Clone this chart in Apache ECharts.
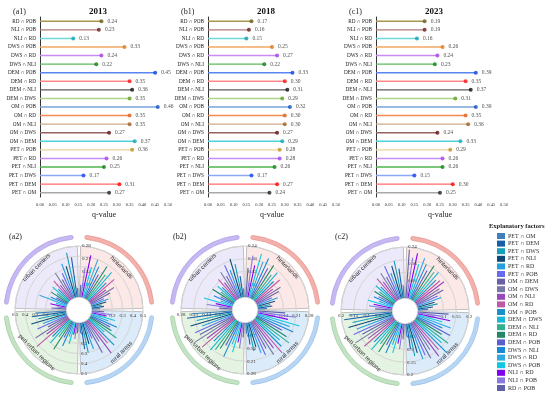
<!DOCTYPE html>
<html>
<head>
<meta charset="utf-8">
<script src="https://cdn.jsdelivr.net/npm/echarts@6/dist/echarts.min.js"></script>
<style>
  html, body { margin: 0; padding: 0; background: #fff; }
  #main { width: 550px; height: 406px; }
</style>
</head>
<body>
<div id="main"></div>
<script>
// interaction pairs, top to bottom in the lollipop panels
const pairs = ['RD ∩ POB', 'NLI ∩ POB', 'NLI ∩ RD', 'DWS ∩ POB', 'DWS ∩ RD', 'DWS ∩ NLI',
  'DEM ∩ POB', 'DEM ∩ RD', 'DEM ∩ NLI', 'DEM ∩ DWS', 'OM ∩ POB', 'OM ∩ RD', 'OM ∩ NLI',
  'OM ∩ DWS', 'OM ∩ DEM', 'PET ∩ POB', 'PET ∩ RD', 'PET ∩ NLI', 'PET ∩ DWS', 'PET ∩ DEM', 'PET ∩ OM']
const q2013 = [0.24, 0.23, 0.13, 0.33, 0.24, 0.22, 0.45, 0.35, 0.36, 0.35, 0.46, 0.35, 0.35, 0.27, 0.37, 0.36, 0.26, 0.25, 0.17, 0.31, 0.27]
const q2018 = [0.17, 0.16, 0.15, 0.25, 0.27, 0.22, 0.33, 0.30, 0.31, 0.29, 0.32, 0.30, 0.30, 0.27, 0.29, 0.28, 0.28, 0.26, 0.17, 0.27, 0.24]
const q2023 = [0.19, 0.19, 0.16, 0.26, 0.24, 0.23, 0.39, 0.35, 0.37, 0.31, 0.39, 0.35, 0.36, 0.24, 0.33, 0.29, 0.26, 0.26, 0.15, 0.30, 0.25]
const stemColors = ['#a89650', '#b07878', '#6fd6dc', '#f2a860', '#c88cf2', '#5cb85c', '#5a86f0', '#ff8a8a',
  '#5a5a5a', '#b0d48c', '#78a2da', '#f28a50', '#cfa888', '#946464', '#4fd2da', '#ead498', '#c88cf8',
  '#4cb44c', '#8aa8f8', '#ff6a6a', '#a8a8a8']
const dotColors = ['#6b5a10', '#6b1a1a', '#10a0b0', '#e07810', '#a040e0', '#108010', '#1040e0', '#ff1010',
  '#101010', '#60a020', '#1050c0', '#e06010', '#a06020', '#601010', '#10a8b8', '#c09020', '#a040f0',
  '#108010', '#1040f0', '#ff0000', '#202020']

// explanatory factors (legend order) for the polar panels
const factors = ['PET ∩ OM', 'PET ∩ DEM', 'PET ∩ DWS', 'PET ∩ NLI', 'PET ∩ RD', 'PET ∩ POB',
  'OM ∩ DEM', 'OM ∩ DWS', 'OM ∩ NLI', 'OM ∩ RD', 'OM ∩ POB', 'DEM ∩ DWS', 'DEM ∩ NLI', 'DEM ∩ RD',
  'DEM ∩ POB', 'DWS ∩ NLI', 'DWS ∩ RD', 'DWS ∩ POB', 'NLI ∩ RD', 'NLI ∩ POB', 'RD ∩ POB']
const factorColors = ['#3f7fc0', '#1660a8', '#18a0b8', '#0e4a78', '#22a0e0', '#6868f0',
  '#6a60a8', '#7878a8', '#9848b8', '#c058a8', '#1890c8', '#18b8d8', '#30b090', '#208868',
  '#5860d0', '#1888d8', '#30a8e0', '#10c8e0', '#8000f0', '#8878e0', '#6060a8']

// q-values per region (hinterlands, urban centers, peri-urban regions, rural areas)
const hint2013 = [0.08, 0.12, 0.10, 0.15, 0.18, 0.14, 0.22, 0.28, 0.20, 0.33, 0.25, 0.36, 0.30, 0.38, 0.27, 0.34, 0.40, 0.31, 0.42, 0.29, 0.12]
const urban2013 = [0.05, 0.22, 0.25, 0.18, 0.20, 0.15, 0.12, 0.17, 0.10, 0.14, 0.09, 0.12, 0.08, 0.11, 0.07, 0.10, 0.16, 0.06, 0.09, 0.05, 0.08]
const peri2013 = [0.30, 0.34, 0.28, 0.36, 0.25, 0.32, 0.22, 0.38, 0.27, 0.42, 0.24, 0.30, 0.20, 0.33, 0.18, 0.26, 0.15, 0.22, 0.12, 0.16, 0.10]
const rural2013 = [0.10, 0.26, 0.30, 0.22, 0.28, 0.18, 0.35, 0.24, 0.40, 0.30, 0.36, 0.20, 0.33, 0.25, 0.22, 0.28, 0.18, 0.24, 0.15, 0.20, 0.12]
const hint2018 = [0.05, 0.08, 0.07, 0.10, 0.12, 0.09, 0.14, 0.16, 0.12, 0.18, 0.15, 0.20, 0.17, 0.22, 0.19, 0.24, 0.21, 0.25, 0.18, 0.23, 0.16]
const urban2018 = [0.04, 0.10, 0.16, 0.19, 0.14, 0.17, 0.12, 0.15, 0.10, 0.13, 0.09, 0.11, 0.08, 0.12, 0.07, 0.10, 0.06, 0.14, 0.08, 0.12, 0.06]
const peri2018 = [0.22, 0.25, 0.20, 0.24, 0.18, 0.23, 0.21, 0.26, 0.19, 0.24, 0.17, 0.22, 0.20, 0.18, 0.15, 0.21, 0.13, 0.17, 0.11, 0.14, 0.08]
const rural2018 = [0.06, 0.12, 0.16, 0.14, 0.18, 0.20, 0.17, 0.22, 0.19, 0.24, 0.21, 0.18, 0.23, 0.20, 0.16, 0.22, 0.19, 0.24, 0.17, 0.21, 0.15]
const hint2023 = [0.04, 0.06, 0.08, 0.07, 0.10, 0.09, 0.12, 0.11, 0.14, 0.13, 0.12, 0.15, 0.14, 0.16, 0.13, 0.15, 0.17, 0.14, 0.18, 0.16, 0.19]
const urban2023 = [0.06, 0.14, 0.18, 0.16, 0.13, 0.17, 0.12, 0.15, 0.11, 0.14, 0.10, 0.12, 0.09, 0.11, 0.08, 0.10, 0.07, 0.12, 0.09, 0.11, 0.08]
const peri2023 = [0.17, 0.19, 0.16, 0.18, 0.15, 0.17, 0.14, 0.18, 0.13, 0.16, 0.12, 0.15, 0.11, 0.14, 0.10, 0.13, 0.09, 0.12, 0.08, 0.10, 0.06]
const rural2023 = [0.05, 0.10, 0.13, 0.12, 0.15, 0.14, 0.16, 0.13, 0.17, 0.15, 0.18, 0.14, 0.16, 0.12, 0.15, 0.11, 0.14, 0.10, 0.13, 0.09, 0.12]

// radial axis ranges per region [max, interval]
const scale2013 = [[0.5, 0.1], [0.28, 0.07], [0.5, 0.1], [0.5, 0.1]]
const scale2018 = [[0.28, 0.07], [0.24, 0.06], [0.28, 0.07], [0.28, 0.07]]
const scale2023 = [[0.2, 0.05], [0.24, 0.08], [0.2, 0.05], [0.2, 0.05]]

const regionNames = ['hinterlands', 'rural areas', 'peri-urban regions', 'urban centers']
const regionBg = ['#fce8e6', '#dcebfa', '#e5f3e2', '#eceafa']
const ringFill = ['#f4b0aa', '#b8d6f4', '#c4e2c4', '#c6b8f2']
const ringLine = ['#e08a84', '#8cb8e6', '#96c896', '#a694e2']

const serif = 'Liberation Serif, DejaVu Serif, serif'
const sans = 'Liberation Sans, Arial, sans-serif'

const chart = echarts.init(document.getElementById('main'))

const topPanels = [
  { tag: '(a1)', year: '2013', q: q2013, left: 40 },
  { tag: '(b1)', year: '2018', q: q2018, left: 208 },
  { tag: '(c1)', year: '2023', q: q2023, left: 376 }
]
const bottomPanels = [
  { tag: '(a2)', tagLeft: 4, center: [79, 310], vals: [hint2013, urban2013, peri2013, rural2013], scale: scale2013 },
  { tag: '(b2)', tagLeft: 168, center: [245, 310], vals: [hint2018, urban2018, peri2018, rural2018], scale: scale2018 },
  { tag: '(c2)', tagLeft: 330, center: [405, 311], vals: [hint2023, urban2023, peri2023, rural2023], scale: scale2023 }
]

const title = [], grid = [], xAxis = [], yAxis = [], series = []
const polar = [], angleAxis = [], radiusAxis = []

topPanels.forEach((p, i) => {
  title.push({ text: p.tag, left: p.left - 32, top: 3, textStyle: { fontFamily: serif, fontSize: 8, fontWeight: 'normal', color: '#222' } })
  title.push({ text: p.year, left: p.left + 44, top: 2, textStyle: { fontFamily: serif, fontSize: 9, fontWeight: 'bold', color: '#111' } })
  grid.push({ left: p.left, top: 17, width: 128, height: 180 })
  xAxis.push({
    gridIndex: i, type: 'value', min: 0, max: 0.5, interval: 0.05, offset: 2,
    name: 'q-value', nameLocation: 'middle', nameGap: 12,
    nameTextStyle: { fontFamily: serif, fontSize: 8, color: '#222' },
    axisLine: { show: false }, axisTick: { show: false }, splitLine: { show: false },
    axisLabel: { fontFamily: serif, fontSize: 4.5, color: '#333', margin: 3, formatter: v => v.toFixed(2) }
  })
  yAxis.push({
    gridIndex: i, type: 'category', data: pairs, inverse: true,
    axisLine: { show: true, lineStyle: { color: '#333', width: 1 } },
    axisTick: { show: false },
    axisLabel: { fontFamily: serif, fontSize: 5.2, color: '#222', margin: 4 }
  })
  series.push({
    type: 'bar', xAxisIndex: i, yAxisIndex: i, barWidth: 1.4, silent: true,
    data: p.q.map((v, k) => ({ value: v, itemStyle: { color: stemColors[k] } }))
  })
  series.push({
    type: 'scatter', xAxisIndex: i, yAxisIndex: i, symbolSize: 4, silent: true,
    data: p.q.map((v, k) => ({ value: [v, pairs[k]], itemStyle: { color: dotColors[k] } })),
    label: { show: true, position: 'right', distance: 4, fontFamily: serif, fontSize: 5.5, color: '#222',
      formatter: d => d.value[0].toFixed(2) }
  })
})

// angle axis runs 0..360 clockwise from the axis edge, so a region's quadrant is 270..360;
// factor k sits in slot k+1 of 22 equal slots, counted back from the axis edge
const startAngles = [0, 90, 180, 270]
const slotAngle = k => 360 - (k + 1) * 90 / 22
// radial tick labels: below the right axis, right of the top axis (others keep their default side)
const labelSide = [
  { margin: -3, verticalAlign: 'top' },
  { margin: -3, align: 'left' },
  { margin: 2 },
  { margin: 2 }
]

bottomPanels.forEach((p, pi) => {
  title.push({ text: p.tag, left: p.tagLeft, top: 228, textStyle: { fontFamily: serif, fontSize: 8, fontWeight: 'normal', color: '#222' } })
  // sector backgrounds, outer rings, region names
  series.push({
    type: 'pie', center: p.center, radius: [13, 64], startAngle: 90, padAngle: 3, silent: true, z: 0,
    label: { show: false }, labelLine: { show: false },
    data: regionNames.map((n, k) => ({ name: n, value: 1, itemStyle: { color: regionBg[k], borderColor: '#9a9a9a', borderWidth: 0.6 } }))
  })
  series.push({
    type: 'pie', center: p.center, radius: [71, 75], startAngle: 90, padAngle: 9, silent: true, z: 0,
    label: { show: false }, labelLine: { show: false },
    data: regionNames.map((n, k) => ({ name: n, value: 1, itemStyle: { color: ringFill[k], borderColor: ringLine[k], borderWidth: 0.6, borderRadius: 2 } }))
  })
  series.push({
    type: 'pie', center: p.center, radius: [52, 62], startAngle: 90, silent: true, zlevel: 1, z: 3,
    itemStyle: { color: 'rgba(0,0,0,0)' }, labelLine: { show: false },
    label: { show: true, position: 'inside', rotate: 'tangential', fontFamily: sans, fontSize: 6, color: '#333' },
    data: regionNames.map(n => ({ name: n, value: 1 }))
  })
  p.vals.forEach((vals, q) => {
    const idx = polar.length
    const [max, step] = p.scale[q]
    polar.push({ center: p.center, radius: [13, 64] })
    angleAxis.push({
      polarIndex: idx, type: 'value', min: 0, max: 360, startAngle: startAngles[q],
      axisLine: { show: false }, axisTick: { show: false }, axisLabel: { show: false }, splitLine: { show: false }
    })
    radiusAxis.push({
      polarIndex: idx, min: 0, max: max, interval: step, z: 1,
      axisLine: { show: false }, axisTick: { show: false },
      splitLine: { show: q !== 1, lineStyle: { color: '#d4d4d4', width: 0.5 } },
      axisLabel: Object.assign({ fontFamily: serif, fontSize: 5, color: '#333',
        formatter: v => (v === 0 ? '' : String(+v.toFixed(2))) }, labelSide[q])
    })
    factors.forEach((f, k) => {
      series.push({
        type: 'line', coordinateSystem: 'polar', polarIndex: idx, name: f,
        symbol: 'none', silent: true, zlevel: 1, z: 2,
        itemStyle: { color: factorColors[k] },
        lineStyle: { color: factorColors[k], width: 1.1, cap: 'butt' },
        data: [[0, slotAngle(k)], [vals[k], slotAngle(k)]]
      })
    })
  })
})

title.push({ text: 'Explanatory factors', left: 484, top: 218, textStyle: { fontFamily: serif, fontSize: 6.5, fontWeight: 'bold', color: '#222' } })

chart.setOption({
  animation: false,
  color: factorColors,
  title: title,
  grid: grid,
  xAxis: xAxis,
  yAxis: yAxis,
  polar: polar,
  angleAxis: angleAxis,
  radiusAxis: radiusAxis,
  legend: {
    data: factors, orient: 'vertical', left: 492, top: 228,
    itemWidth: 8, itemHeight: 6, itemGap: 1.6, icon: 'rect', selectedMode: false,
    textStyle: { fontFamily: serif, fontSize: 6, color: '#333', padding: [0, 0, 0, -2] }
  },
  series: series
})
</script>
</body>
</html>
